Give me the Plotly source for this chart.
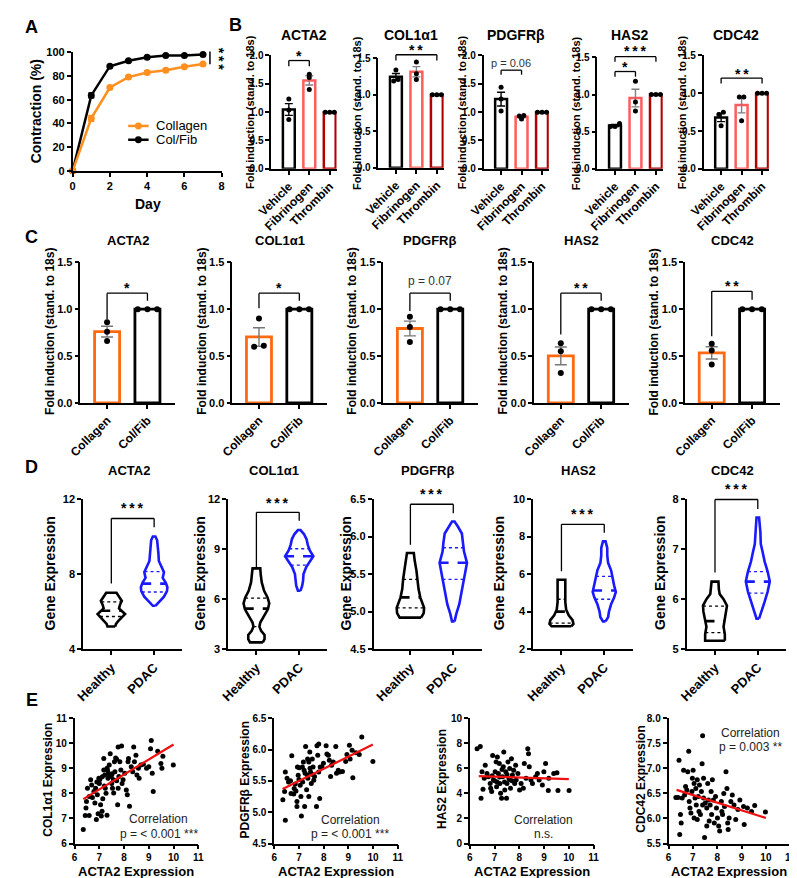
import numpy as np
import plotly.graph_objects as go

W, H = 797, 878
FONT = "Arial, 'Liberation Sans', Helvetica, sans-serif"

# ======================= DATA =======================
# Panel A - gel contraction
days = [0, 1, 2, 3, 4, 5, 6, 7]
a_collagen = [0, 44.3, 70.4, 79.2, 83.1, 85.0, 88.0, 90.3]
a_collagen_err = [0, 2.5, 1.5, 1.0, 1.0, 1.0, 1.0, 1.0]
a_colfib = [0, 63.7, 88.4, 93.0, 96.0, 97.5, 97.5, 98.3]
a_colfib_err = [0, 2.0, 1.0, 0.8, 0.6, 0.5, 0.5, 0.5]
a_legend = ["Collagen", "Col/Fib"]

genes = ["ACTA2", "COL1α1", "PDGFRβ", "HAS2", "CDC42"]

# Panel B - fold induction, three replicates per group
b_groups = ["Vehicle", "Fibrinogen", "Thrombin"]
b_acta2 = [[1.23, 1.04, 0.87], [1.67, 1.61, 1.40], [1.0, 1.0, 1.0]]
b_col1a1 = [[1.34, 1.21, 1.19], [1.45, 1.29, 1.21], [1.0, 1.0, 1.0]]
b_pdgfrb = [[1.44, 1.23, 1.02], [0.94, 0.93, 0.88], [1.0, 1.0, 1.0]]
b_has2 = [[0.61, 0.57, 0.57], [1.18, 0.90, 0.78], [1.0, 1.0, 1.0]]
b_cdc42 = [[0.75, 0.72, 0.57], [0.95, 0.95, 0.635], [1.0, 1.0, 1.0]]
b_ymax = [2.0, 1.5, 2.0, 1.5, 1.5]
# (gene, group a, group b, bracket top, leg bottom, label, label y)
b_sig = [
    (0, 0, 1, 1.91, 1.81, "*", 2.02),
    (1, 0, 2, 1.55, 1.47, "**", 1.64),
    (2, 0, 1, 1.74, 1.66, "p = 0.06", 1.86),
    (3, 0, 1, 1.31, 1.24, "*", 1.40),
    (3, 0, 2, 1.51, 1.44, "***", 1.61),
    (4, 0, 2, 1.20, 1.13, "**", 1.29),
]

# Panel C - fold induction, collagen vs col/fib
c_groups = ["Collagen", "Col/Fib"]
c_acta2 = [[0.86, 0.76, 0.66], [1.0, 1.0, 1.0]]
c_col1a1 = [[0.90, 0.60, 0.61], [1.0, 1.0, 1.0]]
c_pdgfrb = [[0.92, 0.81, 0.65], [1.0, 1.0, 1.0]]
c_has2 = [[0.635, 0.55, 0.32], [1.0, 1.0, 1.0]]
c_cdc42 = [[0.63, 0.56, 0.41], [1.0, 1.0, 1.0]]
# (bracket top, left leg bottom, right leg bottom, label, label y)
c_sig = [
    (1.17, 0.89, 1.09, "*", 1.26),
    (1.17, 1.01, 1.09, "*", 1.26),
    (1.17, 0.98, 1.09, "p = 0.07", 1.30),
    (1.17, 0.73, 1.09, "**", 1.26),
    (1.19, 0.71, 1.10, "**", 1.28),
]

# Panel D - violin profiles (expression level, half width) + median / quartiles
d_groups = ["Healthy", "PDAC"]
d_yranges = [[4, 12], [3, 12], [4.5, 6.5], [2, 10], [5, 8]]
d_yticks = [[4, 8, 12], [3, 6, 9, 12], [4.5, 5.0, 5.5, 6.0, 6.5], [2, 4, 6, 8, 10], [5, 6, 7, 8]]
d_acta2_healthy_y = [5.21, 5.35, 5.5, 5.7, 5.87, 6.02, 6.17, 6.35, 6.57, 6.8, 7.01]
d_acta2_healthy_w = [0.09, 0.11, 0.16, 0.25, 0.32, 0.25, 0.18, 0.20, 0.245, 0.18, 0.12]
d_acta2_pdac_y = [6.31, 6.5, 6.8, 7.1, 7.3, 7.55, 7.8, 8.1, 8.35, 8.7, 9.1, 9.5, 9.8, 10.0]
d_acta2_pdac_w = [0.03, 0.11, 0.23, 0.30, 0.31, 0.27, 0.20, 0.23, 0.18, 0.11, 0.10, 0.08, 0.07, 0.03]
d_col1a1_healthy_y = [3.41, 3.6, 3.85, 4.1, 4.35, 4.6, 5.0, 5.4, 5.75, 6.1, 6.5, 7.0, 7.5, 7.84]
d_col1a1_healthy_w = [0.15, 0.19, 0.19, 0.11, 0.07, 0.09, 0.18, 0.27, 0.30, 0.26, 0.18, 0.125, 0.10, 0.09]
d_col1a1_pdac_y = [6.5, 6.8, 7.1, 7.5, 7.9, 8.25, 8.57, 8.9, 9.25, 9.6, 9.9, 10.14]
d_col1a1_pdac_w = [0.03, 0.07, 0.09, 0.10, 0.16, 0.25, 0.33, 0.25, 0.20, 0.17, 0.11, 0.03]
d_pdgfrb_healthy_y = [4.92, 4.98, 5.05, 5.12, 5.19, 5.3, 5.43, 5.55, 5.68, 5.78]
d_pdgfrb_healthy_w = [0.25, 0.31, 0.32, 0.27, 0.23, 0.19, 0.17, 0.14, 0.10, 0.08]
d_pdgfrb_pdac_y = [4.87, 4.97, 5.1, 5.24, 5.36, 5.5, 5.65, 5.8, 5.92, 6.04, 6.13, 6.2]
d_pdgfrb_pdac_w = [0.03, 0.07, 0.14, 0.19, 0.23, 0.27, 0.32, 0.25, 0.23, 0.20, 0.11, 0.03]
d_has2_healthy_y = [3.22, 3.35, 3.55, 3.8, 4.1, 4.5, 5.0, 5.4, 5.7]
d_has2_healthy_w = [0.23, 0.28, 0.26, 0.17, 0.11, 0.09, 0.09, 0.09, 0.09]
d_has2_pdac_y = [3.48, 3.7, 4.0, 4.4, 4.75, 5.05, 5.4, 5.8, 6.2, 6.6, 7.0, 7.4, 7.74]
d_has2_pdac_w = [0.03, 0.09, 0.11, 0.16, 0.23, 0.27, 0.23, 0.20, 0.16, 0.09, 0.07, 0.07, 0.03]
d_cdc42_healthy_y = [5.17, 5.3, 5.45, 5.6, 5.75, 5.87, 6.0, 6.1, 6.2, 6.35]
d_cdc42_healthy_w = [0.23, 0.23, 0.20, 0.23, 0.27, 0.28, 0.20, 0.11, 0.09, 0.08]
d_cdc42_pdac_y = [5.61, 5.75, 5.95, 6.15, 6.35, 6.55, 6.75, 6.95, 7.1, 7.35, 7.63]
d_cdc42_pdac_w = [0.03, 0.09, 0.16, 0.23, 0.28, 0.23, 0.16, 0.11, 0.07, 0.06, 0.03]
# (median, lower quartile, upper quartile) for healthy / pdac
d_healthy_stats = [(6.05, 5.74, 6.52), (5.43, 4.35, 6.06), (5.19, 5.05, 5.43), (4.0, 3.39, 4.66), (5.56, 5.33, 5.86)]
d_pdac_stats = [(7.49, 7.05, 8.13), (8.57, 8.04, 9.02), (5.65, 5.43, 5.85), (5.13, 4.66, 5.88), (6.35, 6.12, 6.55)]
# (left leg bottom, bracket top, right leg bottom, label y)
d_sig = [(7.5, 10.96, 10.5, 11.5), (7.9, 11.2, 10.7, 11.75), (5.89, 6.43, 6.31, 6.56),
         (6.15, 8.65, 8.2, 9.2), (6.53, 7.99, 7.8, 8.2)]

# Panel E - correlation scatter (ACTA2 expression vs other gene)
e1_points = [(6.35, 6.56), (6.46, 7.42), (6.43, 7.12), (6.59, 7.12), (6.48, 7.68), (6.52, 8.21),
             (6.59, 7.88), (6.65, 8.54), (6.69, 8.34), (6.72, 7.84), (6.78, 8.08), (6.82, 7.62),
             (6.85, 8.21), (6.92, 7.95), (6.88, 6.96), (6.95, 7.19), (6.98, 8.6), (7.0, 8.4),
             (7.05, 7.55), (7.08, 7.1), (7.11, 7.29), (7.14, 7.79), (7.18, 9.39), (7.18, 8.93),
             (7.22, 8.73), (7.24, 8.21), (7.27, 8.01), (7.31, 9.0), (7.31, 7.13), (7.35, 8.6),
             (7.37, 8.8), (7.4, 9.13), (7.44, 9.58), (7.48, 8.67), (7.5, 8.4), (7.53, 8.21),
             (7.57, 8.54), (7.61, 9.26), (7.63, 8.86), (7.66, 9.41), (7.7, 9.36), (7.74, 7.55),
             (7.76, 9.85), (7.76, 8.21), (7.79, 8.67), (7.83, 9.26), (7.87, 8.93), (7.9, 9.89),
             (7.92, 8.4), (7.96, 8.54), (8.03, 8.8), (8.09, 8.14), (8.13, 7.95), (8.16, 9.26),
             (8.18, 9.39), (8.22, 7.49), (8.29, 9.06), (8.35, 8.86), (8.39, 9.85), (8.42, 9.26),
             (8.48, 9.52), (8.52, 8.73), (8.58, 9.0), (8.61, 8.6), (8.68, 9.13), (8.78, 9.16),
             (8.91, 9.0), (9.0, 9.06), (9.07, 9.78), (9.1, 10.11), (9.14, 8.8), (9.18, 8.08),
             (9.36, 9.68), (9.49, 9.19), (9.57, 9.48), (9.53, 9.0), (9.99, 9.13), (7.02, 8.55),
             (7.2, 8.3), (7.42, 8.72), (7.58, 8.02), (7.33, 8.92), (6.9, 8.45), (7.12, 8.66),
             (7.52, 8.78), (7.7, 8.5)]
e1_fit = ([6.35, 10.0], [7.77, 9.95])
e2_points = [(6.45, 4.87), (6.35, 5.2), (6.42, 5.33), (6.45, 5.64), (6.52, 5.54), (6.58, 5.48),
             (6.66, 5.5), (6.71, 5.9), (6.68, 5.3), (6.79, 5.29), (6.81, 5.38), (6.88, 5.34),
             (6.92, 5.17), (6.92, 5.09), (6.94, 5.72), (6.97, 5.59), (7.01, 5.71), (7.05, 5.43),
             (7.08, 5.25), (7.1, 4.94), (7.14, 5.72), (7.18, 5.8), (7.21, 5.67), (7.23, 5.09),
             (7.27, 6.05), (7.31, 5.36), (7.34, 5.59), (7.36, 5.54), (7.4, 5.8), (7.4, 5.25),
             (7.44, 5.96), (7.47, 5.64), (7.5, 5.46), (7.54, 5.85), (7.57, 5.72), (7.6, 5.51),
             (7.63, 5.57), (7.71, 5.09), (7.73, 6.06), (7.76, 5.91), (7.8, 6.09), (7.8, 5.64),
             (7.84, 5.22), (7.86, 5.72), (7.93, 5.72), (7.99, 5.78), (8.1, 6.06), (8.13, 5.93),
             (8.19, 5.91), (8.23, 5.83), (8.28, 5.57), (8.32, 5.75), (8.39, 5.8), (8.49, 6.05),
             (8.52, 5.62), (8.59, 5.67), (8.65, 5.64), (8.76, 5.65), (8.89, 5.81), (8.94, 5.92),
             (9.04, 6.07), (9.07, 5.85), (9.15, 5.99), (9.18, 5.55), (9.31, 5.95), (9.44, 5.92),
             (9.54, 6.2), (9.99, 5.81), (7.0, 5.52), (7.25, 5.62), (7.45, 5.7), (7.15, 5.48),
             (6.85, 5.45), (7.55, 5.6), (7.35, 5.85)]
e2_fit = ([6.34, 9.99], [5.37, 6.08])
e3_points = [(6.29, 7.56), (6.42, 7.74), (6.45, 3.62), (6.49, 5.72), (6.53, 4.33), (6.58, 5.2),
             (6.62, 6.25), (6.69, 5.59), (6.75, 5.33), (6.82, 4.8), (6.84, 4.41), (6.88, 4.15),
             (6.92, 7.03), (6.95, 5.07), (7.02, 5.72), (7.06, 6.51), (7.08, 4.54), (7.11, 6.9),
             (7.15, 5.59), (7.19, 6.38), (7.21, 4.8), (7.24, 4.02), (7.28, 3.62), (7.32, 5.33),
             (7.35, 6.12), (7.37, 7.3), (7.41, 4.28), (7.45, 5.72), (7.48, 3.62), (7.5, 4.8),
             (7.54, 6.51), (7.58, 5.2), (7.61, 5.98), (7.64, 4.41), (7.68, 6.77), (7.72, 5.46),
             (7.77, 5.85), (7.81, 4.8), (7.85, 6.25), (7.87, 5.07), (7.94, 5.59), (8.01, 4.28),
             (8.07, 4.8), (8.16, 4.41), (8.2, 6.38), (8.27, 5.2), (8.34, 7.56), (8.37, 7.17),
             (8.4, 6.12), (8.47, 5.07), (8.53, 4.8), (8.66, 5.33), (8.73, 5.59), (8.8, 5.07),
             (8.93, 4.67), (8.99, 5.72), (9.06, 6.38), (9.17, 4.23), (9.19, 5.2), (9.39, 5.59),
             (9.52, 5.64), (9.56, 4.23), (10.01, 4.23), (7.0, 5.0), (7.2, 5.3), (7.4, 4.9),
             (7.6, 5.1), (7.3, 5.9), (6.9, 5.4), (7.1, 4.9), (7.5, 5.5), (7.7, 5.0)]
e3_fit = ([6.36, 10.0], [5.38, 5.14])
e4_points = [(6.3, 6.42), (6.39, 6.42), (6.43, 7.16), (6.46, 5.68), (6.49, 6.08), (6.52, 5.91),
             (6.56, 6.41), (6.62, 6.96), (6.66, 6.47), (6.7, 6.64), (6.75, 6.57), (6.79, 6.93),
             (6.83, 7.34), (6.85, 6.34), (6.88, 6.21), (6.92, 6.11), (6.96, 6.54), (6.98, 6.8),
             (7.01, 6.96), (7.05, 6.7), (7.05, 6.01), (7.09, 6.41), (7.12, 6.6), (7.14, 6.27),
             (7.18, 6.77), (7.18, 5.98), (7.22, 6.44), (7.25, 6.14), (7.27, 6.67), (7.31, 6.08),
             (7.35, 6.54), (7.38, 7.09), (7.4, 7.65), (7.4, 6.27), (7.44, 6.8), (7.44, 6.41),
             (7.48, 5.62), (7.51, 6.31), (7.57, 6.21), (7.57, 5.85), (7.61, 6.7), (7.64, 6.37),
             (7.67, 5.95), (7.71, 6.27), (7.75, 6.54), (7.77, 6.08), (7.8, 6.77), (7.84, 6.37),
             (7.88, 5.91), (7.93, 6.44), (7.97, 6.21), (8.01, 6.01), (8.06, 5.85), (8.1, 5.75),
             (8.17, 6.34), (8.19, 6.14), (8.22, 6.08), (8.27, 6.5), (8.3, 6.24), (8.36, 6.93),
             (8.4, 6.6), (8.43, 5.91), (8.45, 5.78), (8.49, 6.01), (8.56, 6.34), (8.62, 6.47),
             (8.69, 6.27), (8.76, 5.98), (8.85, 6.18), (8.93, 6.37), (9.08, 6.24), (9.11, 5.88),
             (9.24, 6.21), (9.41, 6.14), (9.54, 6.26), (9.98, 6.13)]
e4_fit = ([6.33, 10.0], [6.57, 6.01])
e_ylabels = ["COL1α1 Expression", "PDGFRβ Expression", "HAS2 Expression", "CDC42 Expression"]
e_yranges = [[6, 11], [4.5, 6.5], [0, 10], [5.5, 8.0]]
e_yticks = [[6, 7, 8, 9, 10, 11], [4.5, 5.0, 5.5, 6.0, 6.5], [0, 2, 4, 6, 8, 10], [5.5, 6.0, 6.5, 7.0, 7.5, 8.0]]
e_xticks = [6, 7, 8, 9, 10, 11]
# (text x, line 1 y, line 2 y, line 2 text)
e_corr = [(9.4, 6.96, 6.37, "p = < 0.001 ***"), (9.07, 4.88, 4.65, "p = < 0.001 ***"),
          (8.99, 1.91, 0.73, "n.s."), (9.35, 7.70, 7.43, "p = 0.003 **")]

# ======================= STYLE =======================
ORANGE_A = "#FF8F1F"
ORANGE_C = "#FF6A10"
B_COLORS = ["black", "#FF5C5C", "#B00000"]
B_ERR = ["black", "#808080", "#B00000"]
C_COLORS = [ORANGE_C, "black"]
C_ERR = ["#777777", "black"]
D_COLORS = ["black", "#1A1AFF"]
RED = "#F01010"

fig = go.Figure()
layout_axes = {}
annotations = []
shapes = []
counter = [0]


def fx(px):
    return px / W


def fy(px):
    return 1 - px / H


def tfont(size):
    return dict(family=FONT, size=size, color="black", weight="bold")


def new_axes(xdom, ydom, xr, yr, xtv, xtt, ytv, ytt, xfs=11, yfs=11, xangle=0):
    counter[0] += 1
    n = counter[0]
    s = "" if n == 1 else str(n)
    base = dict(showline=True, linecolor="black", linewidth=1.6, ticks="outside",
                ticklen=4, tickwidth=1.6, tickcolor="black", showgrid=False,
                zeroline=False, fixedrange=True, tickmode="array")
    layout_axes["xaxis" + s] = dict(base, domain=[fx(xdom[0]), fx(xdom[1])], range=xr,
                                    anchor="y" + s, tickvals=xtv, ticktext=xtt,
                                    tickfont=tfont(xfs), tickangle=xangle)
    layout_axes["yaxis" + s] = dict(base, domain=[fy(ydom[1]), fy(ydom[0])], range=yr,
                                    anchor="x" + s, tickvals=ytv, ticktext=ytt,
                                    tickfont=tfont(yfs))
    return ("x" + s, "y" + s, xr, yr)


def ptext(x, y, text, size, bold=True, angle=0, xanchor="center", yanchor="middle", color="black"):
    annotations.append(dict(x=fx(x), y=fy(y), xref="paper", yref="paper",
                            text=f"<b>{text}</b>" if bold else text, showarrow=False,
                            font=dict(family=FONT, size=size, color=color), textangle=angle,
                            xanchor=xanchor, yanchor=yanchor))


def dtext(ax, x, y, text, size, bold=False, color="black"):
    # placed through the axis domain so labels just above the top tick stay visible
    xa, ya, xr, yr = ax
    annotations.append(dict(x=(x - xr[0]) / (xr[1] - xr[0]), y=(y - yr[0]) / (yr[1] - yr[0]),
                            xref=xa + " domain", yref=ya + " domain",
                            text=f"<b>{text}</b>" if bold else text, showarrow=False,
                            font=dict(family=FONT, size=size, color=color),
                            xanchor="center", yanchor="middle"))


def bracket(ax, x0, x1, ytop, yl0, yl1, width=1.3):
    xa, ya, xr, yr = ax
    cx = lambda v: (v - xr[0]) / (xr[1] - xr[0])
    cy = lambda v: (v - yr[0]) / (yr[1] - yr[0])
    for (a, b, c, d) in [(x0, yl0, x0, ytop), (x0, ytop, x1, ytop), (x1, ytop, x1, yl1)]:
        shapes.append(dict(type="line", xref=xa + " domain", yref=ya + " domain",
                           x0=cx(a), y0=cy(b), x1=cx(c), y1=cy(d),
                           line=dict(color="black", width=width)))


def swarm(vals, step, tol):
    vals = list(vals)
    offs = [0.0] * len(vals)
    order = np.argsort(vals)
    groups = []
    for idx in order:
        if groups and abs(vals[idx] - vals[groups[-1][-1]]) < tol:
            groups[-1].append(idx)
        else:
            groups.append([idx])
    for g in groups:
        k = len(g)
        for j, idx in enumerate(g):
            offs[idx] = (j - (k - 1) / 2) * step
    return offs


def stars(s):
    return "\u2009".join(list(s)) if set(s) == {"*"} else s


# ======================= PANEL A =======================
axA = new_axes([51, 204], [39, 159], [0, 8], [0, 100], [0, 2, 4, 6, 8],
               ["0", "2", "4", "6", "8"], [0, 20, 40, 60, 80, 100],
               ["0", "20", "40", "60", "80", "100"], 11, 11)
for yv, err, col in [(a_colfib, a_colfib_err, "black"), (a_collagen, a_collagen_err, ORANGE_A)]:
    fig.add_trace(go.Scatter(x=days, y=yv, mode="lines+markers",
                             line=dict(color=col, width=2.5), marker=dict(size=7, color=col),
                             error_y=dict(type="data", array=err, color=col, thickness=1.5, width=3),
                             xaxis=axA[0], yaxis=axA[1], cliponaxis=False, showlegend=False))
for i, (name, col) in enumerate(zip(a_legend, [ORANGE_A, "black"])):
    yy = 113.5 + 14 * i
    shapes.append(dict(type="line", xref="paper", yref="paper", x0=fx(108), x1=fx(129),
                       y0=fy(yy), y1=fy(yy), line=dict(color=col, width=2.5)))
    shapes.append(dict(type="circle", xref="paper", yref="paper", x0=fx(115), x1=fx(122),
                       y0=fy(yy + 3.5), y1=fy(yy - 3.5), fillcolor=col, line=dict(width=0)))
    ptext(135, yy, name, 13, bold=False, xanchor="left")
shapes.append(dict(type="line", xref="paper", yref="paper", x0=fx(192), x1=fx(192),
                   y0=fy(38), y1=fy(51), line=dict(color="black", width=1.5)))
ptext(201, 46, stars("***"), 14, angle=90)
ptext(13, 99, "Contraction (%)", 14, angle=-90)
ptext(128, 193, "Day", 14)

# ======================= PANEL B =======================
b_all = [b_acta2, b_col1a1, b_pdgfrb, b_has2, b_cdc42]
b_xdom = [[255, 322], [365, 432], [473, 540], [590, 657], [699, 766]]
b_ytop = [42, 45, 42, 44, 42]
b_ybot = [157, 156, 157, 157, 157]
B_XR = [-0.857, 2.33]
b_axes = []
for gi, gene in enumerate(genes):
    ymax = b_ymax[gi]
    ytv = [v for v in [0, 0.5, 1.0, 1.5, 2.0] if v <= ymax + 1e-9]
    ax = new_axes(b_xdom[gi], [b_ytop[gi], b_ybot[gi]], B_XR, [0, ymax], [0, 1, 2], b_groups,
                  ytv, [f"{v:.1f}" for v in ytv], 12, 10, -45)
    b_axes.append(ax)
    for k in range(3):
        vals = np.array(b_all[gi][k])
        m = vals.mean()
        sem = vals.std(ddof=1) / np.sqrt(len(vals))
        fig.add_trace(go.Bar(x=[k], y=[m], width=0.58,
                             marker=dict(color="white", line=dict(color=B_COLORS[k], width=2.5)),
                             error_y=dict(type="data", array=[sem], color=B_ERR[k], thickness=1.4, width=4),
                             xaxis=ax[0], yaxis=ax[1], showlegend=False))
        offs = swarm(vals, 0.22, 0.05)
        fig.add_trace(go.Scatter(x=[k + o for o in offs], y=vals, mode="markers",
                                 marker=dict(color="black", size=5), xaxis=ax[0], yaxis=ax[1],
                                 cliponaxis=False, showlegend=False))
    cx = (b_xdom[gi][0] + b_xdom[gi][1]) / 2
    ptext(cx, 21, gene, 14)
    ptext(b_xdom[gi][0] - 22, (b_ytop[gi] + b_ybot[gi]) / 2, "Fold induction (stand. to 18s)", 11, angle=-90)
for (gi, a, b, top, leg, lab, ly) in b_sig:
    bracket(b_axes[gi], a, b, top, leg, leg)
    if lab.startswith("p"):
        dtext(b_axes[gi], (a + b) / 2, ly, lab, 11, bold=False, color="#333333")
    else:
        dtext(b_axes[gi], (a + b) / 2, ly - 0.03, stars(lab), 14, bold=True)

# ======================= PANEL C =======================
c_all = [c_acta2, c_col1a1, c_pdgfrb, c_has2, c_cdc42]
c_xdom = [[59, 156], [215, 312], [370, 467], [525, 622], [680, 777]]
C_XR = [-0.66, 1.68]
for gi, gene in enumerate(genes):
    ytv = [0, 0.5, 1.0, 1.5]
    ax = new_axes(c_xdom[gi], [251.7, 394.3], C_XR, [0, 1.5], [0, 1], c_groups,
                  ytv, [f"{v:.1f}" for v in ytv], 12, 11, -45)
    for k in range(2):
        vals = np.array(c_all[gi][k])
        m = vals.mean()
        sem = vals.std(ddof=1) / np.sqrt(len(vals))
        fig.add_trace(go.Bar(x=[k], y=[m], width=0.62,
                             marker=dict(color="white", line=dict(color=C_COLORS[k], width=2.8)),
                             error_y=dict(type="data", array=[sem], color=C_ERR[k], thickness=1.4, width=6),
                             xaxis=ax[0], yaxis=ax[1], showlegend=False))
        offs = swarm(vals, 0.24, 0.05)
        fig.add_trace(go.Scatter(x=[k + o for o in offs], y=vals, mode="markers",
                                 marker=dict(color="black", size=6), xaxis=ax[0], yaxis=ax[1],
                                 cliponaxis=False, showlegend=False))
    top, l0, l1, lab, ly = c_sig[gi]
    bracket(ax, 0, 1, top, l0, l1)
    if lab.startswith("p"):
        dtext(ax, 0.5, ly, lab, 12, bold=False, color="#333333")
    else:
        dtext(ax, 0.5, ly - 0.03, stars(lab), 14, bold=True)
    cx = (c_xdom[gi][0] + c_xdom[gi][1]) / 2
    ptext(cx, 230, gene, 13)
    ptext(c_xdom[gi][0] - 32, 322, "Fold induction (stand. to 18s)", 12, angle=-90)

# ======================= PANEL D =======================
d_profiles = [
    ((d_acta2_healthy_y, d_acta2_healthy_w), (d_acta2_pdac_y, d_acta2_pdac_w)),
    ((d_col1a1_healthy_y, d_col1a1_healthy_w), (d_col1a1_pdac_y, d_col1a1_pdac_w)),
    ((d_pdgfrb_healthy_y, d_pdgfrb_healthy_w), (d_pdgfrb_pdac_y, d_pdgfrb_pdac_w)),
    ((d_has2_healthy_y, d_has2_healthy_w), (d_has2_pdac_y, d_has2_pdac_w)),
    ((d_cdc42_healthy_y, d_cdc42_healthy_w), (d_cdc42_pdac_y, d_cdc42_pdac_w)),
]
d_xdom = [[61.7, 163.7], [210.7, 312.7], [360, 471], [524, 626], [681.7, 783.7]]
d_xr = [[-0.66, 1.66], [-0.66, 1.66], [-0.86, 1.66], [-0.66, 1.66], [-0.66, 1.66]]
d_ytitle_x = [28, 182, 332, 489, 655]


def fmt_tick(v, ticks):
    return f"{v:.1f}" if any(abs(t - round(t)) > 1e-9 for t in ticks) else f"{int(round(v))}"


for gi, gene in enumerate(genes):
    ytv = d_yticks[gi]
    ax = new_axes(d_xdom[gi], [491.7, 644], d_xr[gi], d_yranges[gi], [0, 1], d_groups,
                  ytv, [fmt_tick(v, ytv) for v in ytv], 13, 11, -45)
    for k in range(2):
        yy, ww = np.array(d_profiles[gi][k][0]), np.array(d_profiles[gi][k][1])
        xs = np.concatenate([k + ww, (k - ww)[::-1], [k + ww[0]]])
        ys = np.concatenate([yy, yy[::-1], [yy[0]]])
        col = D_COLORS[k]
        fig.add_trace(go.Scatter(x=xs, y=ys, mode="lines", fill="toself", fillcolor="white",
                                 line=dict(color=col, width=2.6), xaxis=ax[0], yaxis=ax[1],
                                 showlegend=False))
        stats = d_healthy_stats[gi] if k == 0 else d_pdac_stats[gi]
        for si, sv in enumerate(stats):
            hw = float(np.interp(sv, yy, ww))
            fig.add_trace(go.Scatter(x=[k - hw, k + hw], y=[sv, sv], mode="lines",
                                     line=dict(color=col, width=2.6 if si == 0 else 1.4,
                                               dash="dash" if si == 0 else "dot"),
                                     xaxis=ax[0], yaxis=ax[1], showlegend=False))
    l0, top, l1, ly = d_sig[gi]
    bracket(ax, 0, 1, top, l0, l1)
    dtext(ax, 0.5, ly, stars("***"), 14, bold=True)
    cx = (d_xdom[gi][0] + d_xdom[gi][1]) / 2 - (4 if gi != 2 else 0)
    ptext(cx, 463, gene, 13)
    ptext(d_ytitle_x[gi], 567, "Gene Expression", 14, angle=-90)

# ======================= PANEL E =======================
e_all = [e1_points, e2_points, e3_points, e4_points]
e_fits = [e1_fit, e2_fit, e3_fit, e4_fit]
e_xdom = [[53, 180], [258, 385], [459, 586], [663, 788]]
e_ytitle_x = [26, 228, 431, 635]
for gi in range(4):
    ytv = e_yticks[gi]
    ax = new_axes(e_xdom[gi], [714, 841], [6, 11], e_yranges[gi], e_xticks,
                  [str(v) for v in e_xticks], ytv, [fmt_tick(v, ytv) for v in ytv], 10, 10)
    px_, py_ = zip(*e_all[gi])
    fig.add_trace(go.Scatter(x=px_, y=py_, mode="markers", marker=dict(color="black", size=5),
                             xaxis=ax[0], yaxis=ax[1], cliponaxis=False, showlegend=False))
    fig.add_trace(go.Scatter(x=e_fits[gi][0], y=e_fits[gi][1], mode="lines",
                             line=dict(color=RED, width=2.2), xaxis=ax[0], yaxis=ax[1],
                             showlegend=False))
    cxv, cy1, cy2, lab2 = e_corr[gi]
    dtext(ax, cxv, cy1, "Correlation", 12, color="#222222")
    dtext(ax, cxv, cy2, lab2, 12, color="#222222")
    ptext(e_ytitle_x[gi], 776, e_ylabels[gi], 12, angle=-90)
    ptext((e_xdom[gi][0] + e_xdom[gi][1]) / 2, 869, "ACTA2 Expression", 13)

# panel letters
for letter, (x, y) in zip("ABCDE", [(9, 13), (218, 11), (9, 226), (9, 459), (9, 695)]):
    ptext(x, y, letter, 18)

fig.update_layout(
    width=W, height=H, margin=dict(l=0, r=0, t=0, b=0),
    paper_bgcolor="white", plot_bgcolor="white", barmode="overlay",
    font=dict(family=FONT, color="black"), showlegend=False,
    annotations=annotations, shapes=shapes, **layout_axes,
)
fig.write_html("out.html", config={"displayModeBar": False})
